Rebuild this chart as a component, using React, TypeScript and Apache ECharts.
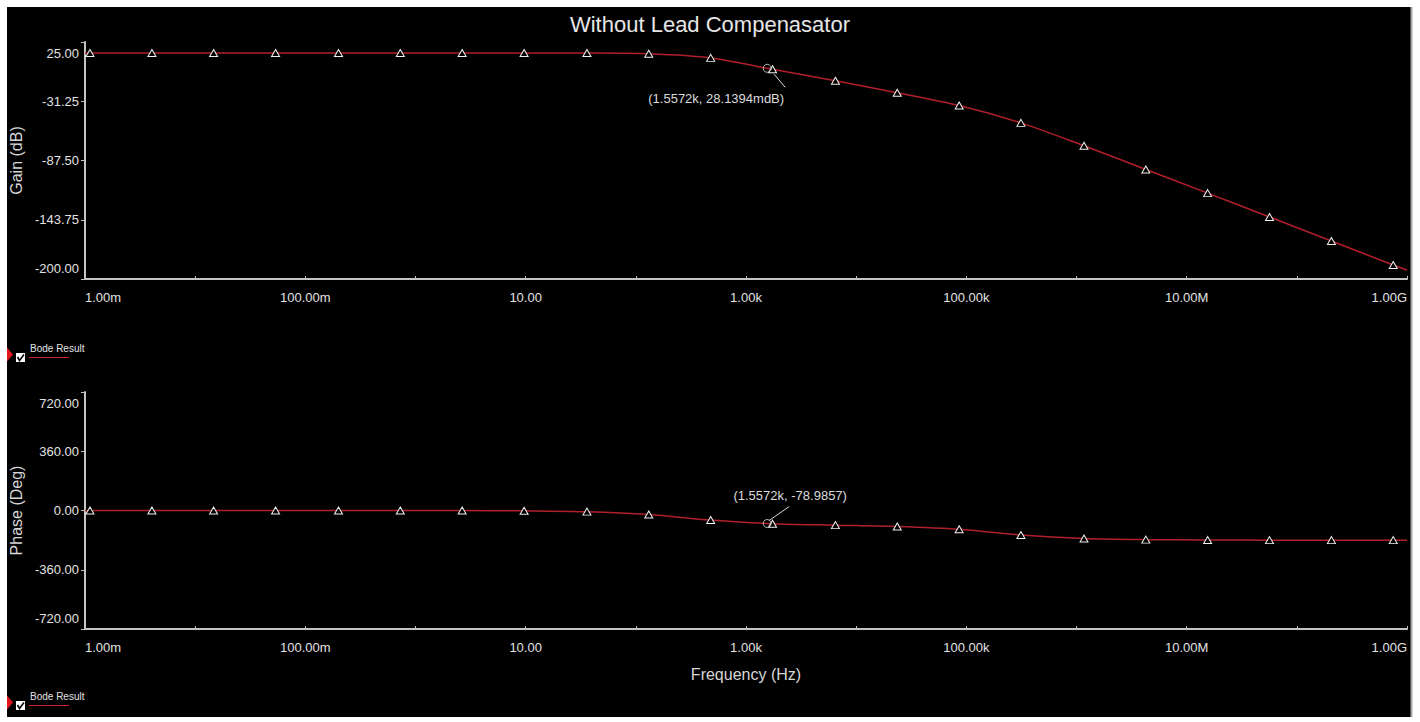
import React, { useEffect, useRef } from "react";
import * as echarts from "echarts";

// ---- data ----
const freqHz = [
  0.001, 0.00111, 0.00405, 0.0147, 0.0537, 0.2, 0.728, 2.65, 9.68, 36.0, 131, 478,
  1742, 6486, 23600, 86100, 313000, 1.17e6, 4.26e6, 1.55e7, 5.65e7, 2.06e8, 7.5e8, 1e9,
];
const gainDb = [
  14.6, 14.6, 14.6, 14.6, 14.6, 14.6, 14.6, 14.6, 14.6, 14.5, 13.8, 9.9,
  -0.9, -11.8, -23.2, -35.3, -51.8, -73.5, -96.0, -118.5, -141.1, -163.9, -186.7, -191.5,
];
const phaseDeg = [
  0, 0, 0, 0, 0, 0, -0.1, -0.5, -1.9, -7, -24, -58,
  -80.5, -89, -97, -114, -149, -170, -177, -179, -180, -180, -180, -180,
];
const cursorFreqHz = 1557.2;
const cursorGainDb = 0.0281394;
const cursorPhaseDeg = -78.9857;

const xTickValues = [1e-3, 1e-2, 1e-1, 1, 10, 100, 1e3, 1e4, 1e5, 1e6, 1e7, 1e8, 1e9];
const xLabelValues = [1e-3, 1e-1, 10, 1e3, 1e5, 1e7, 1e9];
const xLabelTexts = ["1.00m", "100.00m", "10.00", "1.00k", "100.00k", "10.00M", "1.00G"];
const gainTicks = [-200, -143.75, -87.5, -31.25, 25];
const phaseTicks = [-720, -360, 0, 360, 720];

const FONT = "'Liberation Sans', Arial, sans-serif";
const TXT = "#e2e2e2";
const AXIS = "#c4c4c4";
const RED = "#b0202a";

function xLabel(v: number): string {
  const e = Math.round(Math.log10(v));
  const idx = xLabelValues.findIndex((x) => Math.round(Math.log10(x)) === e);
  return idx >= 0 ? xLabelTexts[idx] : "";
}

function makeXAxis(gridIndex: number, name?: string) {
  return {
    type: "log",
    logBase: 10,
    gridIndex,
    min: 1e-3,
    max: 1e9,
    name: name || "",
    nameLocation: "middle",
    nameGap: 37,
    nameTextStyle: { color: "#d6d6d6", fontSize: 16, fontFamily: FONT },
    axisLine: { show: true, onZero: false, lineStyle: { color: AXIS, width: 2 } },
    axisTick: { show: true, inside: true, length: 3, customValues: xTickValues, lineStyle: { color: AXIS, width: 1 } },
    axisLabel: {
      customValues: xLabelValues,
      formatter: (v: number) => xLabel(v),
      color: TXT,
      fontSize: 13,
      fontFamily: FONT,
      margin: 12,
      alignMinLabel: "left",
      alignMaxLabel: "right",
    },
    splitLine: { show: false },
    minorTick: { show: false },
  };
}

function makeYAxis(gridIndex: number, ticks: number[], name: string) {
  const min = ticks[0];
  const max = ticks[ticks.length - 1];
  return {
    type: "value",
    gridIndex,
    min,
    max,
    name,
    nameLocation: "middle",
    nameGap: 57,
    nameTextStyle: { color: "#d6d6d6", fontSize: 16, fontFamily: FONT },
    axisLine: { show: true, onZero: false, lineStyle: { color: AXIS, width: 2 } },
    axisTick: { show: true, inside: false, length: 4, customValues: ticks, lineStyle: { color: AXIS, width: 1 } },
    axisLabel: {
      customValues: ticks,
      color: TXT,
      fontSize: 13,
      fontFamily: FONT,
      margin: 6,
      formatter: (v: number) => {
        const s = v.toFixed(2);
        if (v === max) return "{t|" + s + "}";
        if (v === min) return "{b|" + s + "}";
        return s;
      },
      rich: {
        t: { color: TXT, fontSize: 13, fontFamily: FONT, padding: [22, 0, 0, 0] },
        b: { color: TXT, fontSize: 13, fontFamily: FONT, padding: [0, 0, 22, 0] },
      },
    },
    splitLine: { show: false },
  };
}

function curveData(vals: number[]) {
  const last = freqHz.length - 1;
  return freqHz.map((f, i) => ({
    value: [f, vals[i]],
    symbol: i === 0 || i === last ? "none" : "triangle",
  }));
}

function legendGroup(dy: number) {
  return {
    type: "group",
    x: 0,
    y: dy,
    children: [
      { type: "polygon", shape: { points: [[7, 347.5], [13, 354.5], [7, 361.5]] }, style: { fill: "#e3161d" } },
      { type: "rect", shape: { x: 16, y: 353, width: 9, height: 9 }, style: { fill: "#ffffff" } },
      {
        type: "polyline",
        shape: { points: [[17.5, 357], [19.5, 360.5], [24, 354.5]] },
        style: { stroke: "#000", lineWidth: 1.6, fill: null },
      },
      {
        type: "text",
        x: 30,
        y: 348,
        style: { text: "Bode Result", fill: TXT, fontSize: 10, fontFamily: FONT, verticalAlign: "middle", align: "left" },
      },
      { type: "line", shape: { x1: 29, y1: 357.5, x2: 69, y2: 357.5 }, style: { stroke: "#c8202a", lineWidth: 1 } },
    ],
  };
}

export default function App() {
  const ref = useRef<HTMLDivElement>(null);
  useEffect(() => {
    if (!ref.current) return;
    const chart = echarts.init(ref.current, null, { renderer: "svg" });
    const baseGraphic: any[] = [
      { type: "rect", z: -10, silent: true, shape: { x: 7, y: 7, width: 1404, height: 710 }, style: { fill: "#000" } },
      { type: "line", z: -9, shape: { x1: 1411.5, y1: 7, x2: 1411.5, y2: 717 }, style: { stroke: "#a8a8a8", lineWidth: 2 } },
      legendGroup(0),
      legendGroup(348),
    ];
    const option: any = {
      animation: false,
      backgroundColor: "#ffffff",
      title: {
        text: "Without Lead Compenasator",
        left: "center",
        top: 8,
        textStyle: { color: "#e6e6e6", fontSize: 22, fontWeight: "normal", fontFamily: FONT },
      },
      grid: [
        { left: 82, right: 13, top: 42, height: 237, containLabel: false },
        { left: 82, right: 13, top: 392, height: 237, containLabel: false },
      ],
      xAxis: [makeXAxis(0), makeXAxis(1, "Frequency (Hz)")],
      yAxis: [makeYAxis(0, gainTicks, "Gain (dB)"), makeYAxis(1, phaseTicks, "Phase (Deg)")],
      series: [
        {
          type: "line",
          xAxisIndex: 0,
          yAxisIndex: 0,
          data: curveData(gainDb),
          smooth: 0.3,
          symbolSize: [8, 7],
          lineStyle: { color: RED, width: 1.5 },
          itemStyle: { color: "#000", borderColor: "#f0f0f0", borderWidth: 1 },
          z: 3,
        },
        {
          type: "line",
          xAxisIndex: 1,
          yAxisIndex: 1,
          data: curveData(phaseDeg),
          smooth: 0.3,
          symbolSize: [8, 7],
          lineStyle: { color: RED, width: 1.5 },
          itemStyle: { color: "#000", borderColor: "#f0f0f0", borderWidth: 1 },
          z: 3,
        },
        {
          type: "scatter",
          xAxisIndex: 0,
          yAxisIndex: 0,
          data: [[cursorFreqHz, cursorGainDb]],
          symbol: "circle",
          symbolSize: 8,
          itemStyle: { color: "rgba(0,0,0,0)", borderColor: "#dcdcdc", borderWidth: 1 },
          z: 4,
        },
        {
          type: "scatter",
          xAxisIndex: 1,
          yAxisIndex: 1,
          data: [[cursorFreqHz, cursorPhaseDeg]],
          symbol: "circle",
          symbolSize: 8,
          itemStyle: { color: "rgba(0,0,0,0)", borderColor: "#dcdcdc", borderWidth: 1 },
          z: 4,
        },
      ],
      graphic: baseGraphic,
    };
    chart.setOption(option);

    const pg = chart.convertToPixel({ gridIndex: 0 } as any, [cursorFreqHz, cursorGainDb]) as number[];
    const pp = chart.convertToPixel({ gridIndex: 1 } as any, [cursorFreqHz, cursorPhaseDeg]) as number[];
    const fStr = (cursorFreqHz / 1000).toFixed(4) + "k";
    const gainText = "(" + fStr + ", " + (cursorGainDb * 1000).toFixed(4) + "mdB)";
    const phaseText = "(" + fStr + ", " + cursorPhaseDeg.toFixed(4) + ")";
    const annot: any[] = [];
    if (pg && pp) {
      annot.push(
        { type: "line", shape: { x1: pg[0] + 7, y1: pg[1] + 6, x2: pg[0] + 18, y2: pg[1] + 19 }, style: { stroke: "#dcdcdc", lineWidth: 1 } },
        {
          type: "text",
          x: pg[0] - 51,
          y: pg[1] + 30,
          style: { text: gainText, fill: "#dcdcdc", fontSize: 13, fontFamily: FONT, align: "center", verticalAlign: "middle" },
        },
        { type: "line", shape: { x1: pp[0] + 2, y1: pp[1] - 3, x2: pp[0] + 22, y2: pp[1] - 17 }, style: { stroke: "#dcdcdc", lineWidth: 1 } },
        {
          type: "text",
          x: pp[0] + 23,
          y: pp[1] - 28,
          style: { text: phaseText, fill: "#dcdcdc", fontSize: 13, fontFamily: FONT, align: "center", verticalAlign: "middle" },
        }
      );
    }
    chart.setOption({ graphic: [...baseGraphic, ...annot] });
    return () => chart.dispose();
  }, []);
  return <div ref={ref} style={{ position: "absolute", left: 0, top: 0, width: 1420, height: 722 }} />;
}
